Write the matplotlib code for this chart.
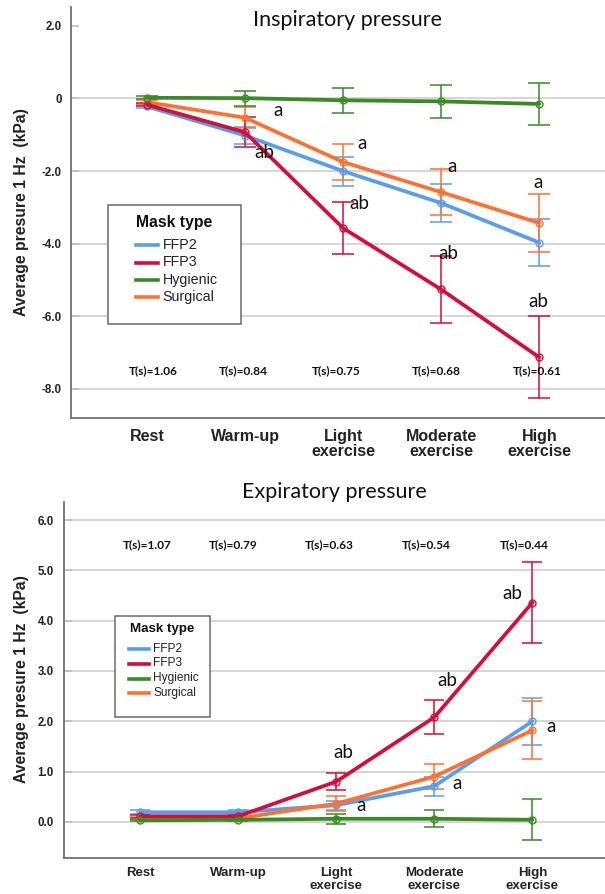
import matplotlib
matplotlib.use("Agg")
import matplotlib.pyplot as plt
from matplotlib.lines import Line2D
from matplotlib.patches import Rectangle

# ---- data -------------------------------------------------------------
phases = ["Rest", "Warm-up", "Light\nexercise", "Moderate\nexercise", "High\nexercise"]
masks = ["FFP2", "FFP3", "Hygienic", "Surgical"]

# Inspiratory pressure (kPa): mean and 95% CI half-width per phase
insp_ffp2 = [-0.22, -1.02, -2.00, -2.88, -3.97]
insp_ffp3 = [-0.17, -0.93, -3.57, -5.26, -7.13]
insp_hyg = [0.02, 0.01, -0.05, -0.08, -0.15]
insp_surg = [-0.10, -0.53, -1.75, -2.58, -3.43]
insp_ffp2_ci = [0.05, 0.24, 0.40, 0.53, 0.65]
insp_ffp3_ci = [0.05, 0.41, 0.71, 0.92, 1.13]
insp_hyg_ci = [0.04, 0.21, 0.35, 0.46, 0.57]
insp_surg_ci = [0.05, 0.29, 0.50, 0.64, 0.80]
insp_period = [1.06, 0.84, 0.75, 0.68, 0.61]

# Expiratory pressure (kPa)
exp_ffp2 = [0.19, 0.19, 0.33, 0.71, 2.00]
exp_ffp3 = [0.11, 0.11, 0.80, 2.08, 4.36]
exp_hyg = [0.03, 0.04, 0.06, 0.06, 0.04]
exp_surg = [0.07, 0.07, 0.36, 0.90, 1.82]
exp_ffp2_ci = [0.04, 0.04, 0.09, 0.19, 0.47]
exp_ffp3_ci = [0.03, 0.03, 0.17, 0.34, 0.81]
exp_hyg_ci = [0.02, 0.02, 0.10, 0.17, 0.41]
exp_surg_ci = [0.03, 0.03, 0.15, 0.24, 0.58]
exp_period = [1.07, 0.79, 0.63, 0.54, 0.44]

insp_ticks = [2.0, 0, -2.0, -4.0, -6.0, -8.0]
insp_tick_labels = ["2.0", "0", "-2.0", "-4.0", "-6.0", "-8.0"]
exp_ticks = [6.0, 5.0, 4.0, 3.0, 2.0, 1.0, 0.0]
exp_tick_labels = ["6.0", "5.0", "4.0", "3.0", "2.0", "1.0", "0.0"]

# significance letters: (x, y, text)
insp_letters = [(1.34, -0.33, "a"), (1.20, -1.48, "ab"),
                (2.19, -1.25, "a"), (2.17, -2.88, "ab"),
                (3.11, -1.86, "a"), (3.07, -4.28, "ab"),
                (3.99, -2.30, "a"), (3.99, -5.59, "ab")]
exp_letters = [(2.07, 1.37, "ab"), (2.25, 0.33, "a"),
               (3.13, 2.81, "ab"), (3.23, 0.76, "a"),
               (3.79, 4.55, "ab"), (4.19, 1.90, "a")]

colors = {"FFP2": "#5B9EE8", "FFP3": "#D0103A",
          "Hygienic": "#3A8A28", "Surgical": "#FF7233"}
draw_order = ["FFP2", "Surgical", "FFP3", "Hygienic"]

W, H = 605, 894
fig = plt.figure(figsize=(W / 100, H / 100), dpi=100)


def fx(px):
    return px / W


def fy(py):
    return 1 - py / H


SANS = ["Liberation Sans", "DejaVu Sans"]
SOFT = ["Lato", "DejaVu Sans"]
GRID = "#d2d2d2"
SPINE = "#707070"


def panel(rect, means, cis, xlim, ylim, ticks, tick_labels, gridticks,
          letters, periods, period_y, period_dx, xlab_size, xlab_pad,
          xlab_spacing, cap):
    ax = fig.add_axes(rect)
    ax.set_xlim(*xlim)
    ax.set_ylim(*ylim)
    for s in ("top", "right"):
        ax.spines[s].set_visible(False)
    for s in ("left", "bottom"):
        ax.spines[s].set_color(SPINE)
        ax.spines[s].set_linewidth(1.3)
    for g in gridticks:
        ax.axhline(g, color=GRID, lw=1.3, zorder=0)
    ax.set_yticks(ticks)
    ax.set_yticklabels(tick_labels, fontfamily=SANS, fontweight="bold",
                       fontsize=8.3, color="#222222")
    ax.tick_params(axis="y", direction="in", length=6, color="#bdbdbd",
                   width=1.2, pad=7)
    x = list(range(len(phases)))
    ax.set_xticks(x)
    ax.set_xticklabels(phases, fontfamily=SANS, fontweight="bold",
                       fontsize=xlab_size, color="#222222",
                       linespacing=xlab_spacing)
    ax.tick_params(axis="x", length=0, pad=xlab_pad)
    for m in draw_order:
        c = colors[m]
        ax.errorbar(x, means[m], yerr=cis[m], fmt="none", ecolor=c,
                    elinewidth=1.3, capsize=cap, capthick=1.3, alpha=0.85,
                    zorder=2)
        ax.plot(x, means[m], color=c, lw=2.7, marker="o", ms=5,
                mfc="none", mec=c, mew=1.0, zorder=3, solid_capstyle="round")
    for lx, ly, t in letters:
        ax.text(lx, ly, t, fontfamily=SOFT, fontsize=13.5, ha="center",
                va="center", color="#111111", zorder=5)
    for i, p in enumerate(periods):
        ax.text(i + period_dx[i], period_y, f"T(s)={p:.2f}", fontfamily=SOFT,
                fontweight="bold", fontsize=8.6, ha="center", va="center",
                color="#111111")
    return ax


insp_means = {"FFP2": insp_ffp2, "FFP3": insp_ffp3,
              "Hygienic": insp_hyg, "Surgical": insp_surg}
insp_cis = {"FFP2": insp_ffp2_ci, "FFP3": insp_ffp3_ci,
            "Hygienic": insp_hyg_ci, "Surgical": insp_surg_ci}
exp_means = {"FFP2": exp_ffp2, "FFP3": exp_ffp3,
             "Hygienic": exp_hyg, "Surgical": exp_surg}
exp_cis = {"FFP2": exp_ffp2_ci, "FFP3": exp_ffp3_ci,
           "Hygienic": exp_hyg_ci, "Surgical": exp_surg_ci}

# upper panel
ax1 = panel([fx(71.4), fy(418), fx(605) - fx(71.4), fy(7) - fy(418)],
            insp_means, insp_cis, (-0.77, 4.67), (-8.8, 2.52),
            insp_ticks, insp_tick_labels, [0, -2, -4, -6, -8],
            insp_letters, insp_period, -7.5,
            [0.06, -0.02, -0.07, -0.05, -0.02], 11.5, 8, 1.0, 7.6)

# lower panel
ax2 = panel([fx(63.7), fy(858), fx(605) - fx(63.7), fy(502) - fy(858)],
            exp_means, exp_cis, (-0.78, 4.74), (-0.72, 6.36),
            exp_ticks, exp_tick_labels, [6, 5, 4, 3, 2, 1, 0],
            exp_letters, exp_period, 5.52,
            [0.07, -0.05, -0.07, -0.08, -0.08], 9.5, 6.5, 1.1, 7.0)

# titles and axis labels
fig.text(fx(348), fy(20), "Inspiratory pressure", fontfamily=SOFT,
         fontsize=15.5, ha="center", va="center", color="#111111")
fig.text(fx(334), fy(492), "Expiratory pressure", fontfamily=SOFT,
         fontsize=15.5, ha="center", va="center", color="#111111")
for ycen in (212, 679):
    fig.text(fx(21.7), fy(ycen), "Average presure 1 Hz  (kPa)",
             fontfamily=SANS, fontweight="bold", fontsize=11.3, rotation=90,
             ha="center", va="center", color="#222222")


def legend_box(x0, y0, x1, y1, title_x, title_y, title_size, h0, h1, tx,
               rows, label_size):
    fig.patches.append(Rectangle((fx(x0), fy(y1)), fx(x1) - fx(x0),
                                 fy(y0) - fy(y1), transform=fig.transFigure,
                                 facecolor="white", edgecolor="#6a6a6a",
                                 lw=1.1, zorder=10))
    fig.text(fx(title_x), fy(title_y), "Mask type", fontfamily=SANS,
             fontweight="bold", fontsize=title_size, ha="center",
             va="center", color="#111111", zorder=11)
    for m, ry in zip(masks, rows):
        fig.lines.append(Line2D([fx(h0), fx(h1)], [fy(ry), fy(ry)],
                                transform=fig.transFigure,
                                color=colors[m], lw=2.6, zorder=11))
        fig.text(fx(tx), fy(ry), m, fontfamily=SANS, fontsize=label_size,
                 ha="left", va="center", color="#222222", zorder=11)


legend_box(108, 205, 241, 324, 174, 222, 11.3, 136, 158, 162.5,
           [245, 262.5, 280, 297], 10.3)
legend_box(114.7, 615.7, 210, 717, 162, 629, 9.6, 129, 149, 153,
           [648.5, 663.5, 678.5, 693], 8.6)

fig.savefig("out.png", dpi=100)
